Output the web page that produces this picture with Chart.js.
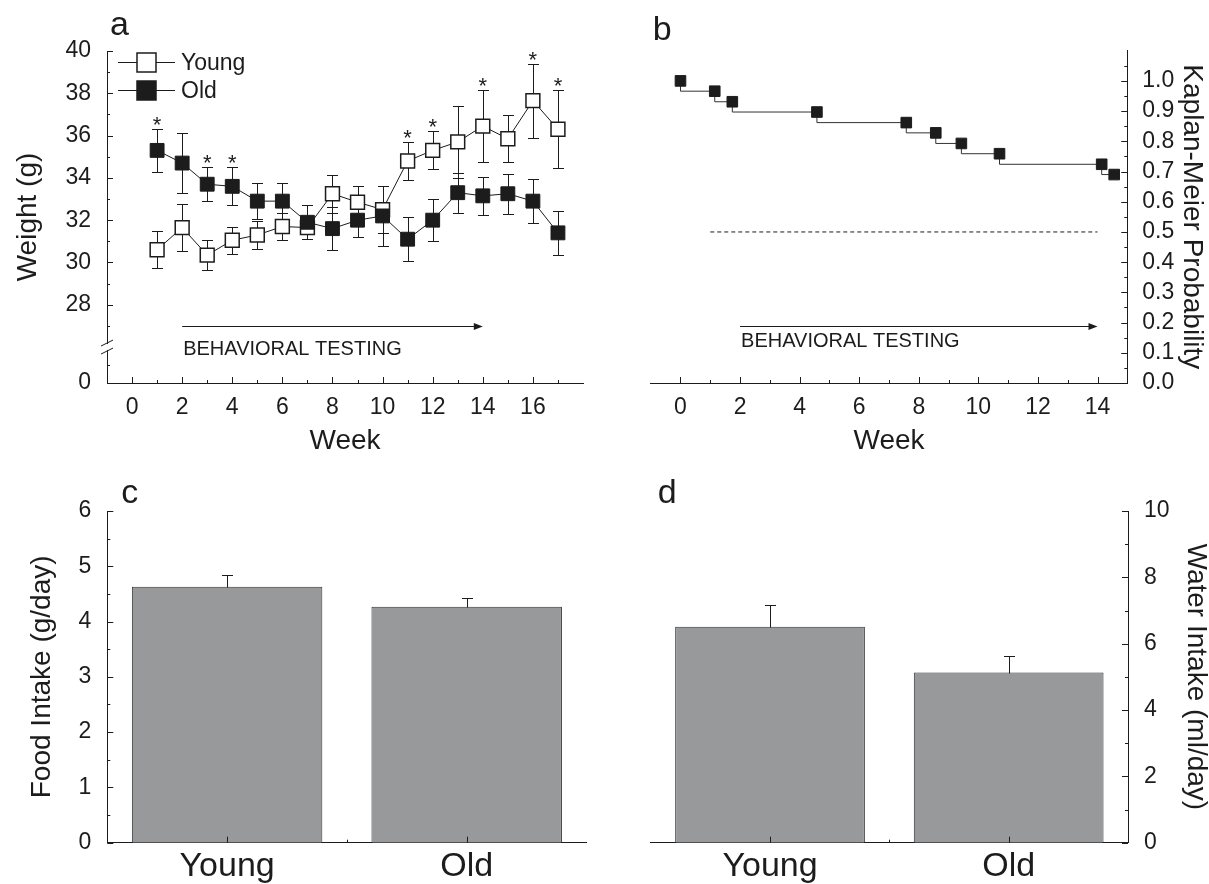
<!DOCTYPE html>
<html>
<head>
<meta charset="utf-8">
<script src="https://cdn.jsdelivr.net/npm/chart.js@4.4.0/dist/chart.umd.min.js"></script>
<style>
  body { margin: 0; background: #fff; }
  #fig { position: relative; width: 1209px; height: 884px; background: #fff; }
  #fig canvas { position: absolute; }
</style>
</head>
<body>
<div id="fig">
  <canvas id="weightChart" width="600" height="460" style="left:0;top:0"></canvas>
  <canvas id="survivalChart" width="609" height="460" style="left:600px;top:0"></canvas>
  <canvas id="foodChart" width="600" height="424" style="left:0;top:460px"></canvas>
  <canvas id="waterChart" width="609" height="424" style="left:600px;top:460px"></canvas>
</div>
<script>
const INK = '#1c1c1c';
const BAR_FILL = '#98999b';
Chart.defaults.font.family = '"Liberation Sans", Arial, Helvetica, sans-serif';
Chart.defaults.color = INK;

// body weight (g), mean +/- SEM per week
const weeks = [1, 2, 3, 4, 5, 6, 7, 8, 9, 10, 11, 12, 13, 14, 15, 16, 17];
const youngWeight = [30.6, 31.65, 30.35, 31.05, 31.3, 31.7, 31.65, 33.25, 32.85, 32.5, 34.8, 35.3, 35.7, 36.45, 35.85, 37.65, 36.3];
const youngSem = [0.87, 1.1, 0.7, 0.65, 0.65, 0.62, 0.55, 0.9, 0.75, 1.1, 0.9, 0.9, 1.7, 1.7, 1.1, 1.75, 1.85];
const oldWeight = [35.3, 34.7, 33.7, 33.6, 32.9, 32.9, 31.9, 31.6, 32.0, 32.2, 31.1, 32.0, 33.3, 33.15, 33.25, 32.9, 31.4];
const oldSem = [1.0, 1.4, 0.8, 0.9, 0.85, 0.85, 0.8, 1.0, 0.8, 1.4, 1.05, 1.0, 0.95, 0.9, 0.95, 1.05, 1.05];
const significantWeeks = [1, 3, 4, 11, 12, 14, 16, 17];
const weekTicks = [0, 2, 4, 6, 8, 10, 12, 14, 16];
const weightTicks = [0, 28, 30, 32, 34, 36, 38, 40];
const weightFloor = 24.3;   // where the "0" sits below the axis break
const weightBreak = 26;

// Kaplan-Meier survival of the aged cohort
const kmWeeks = [0, 1.15, 1.74, 4.58, 7.58, 8.57, 9.43, 10.71, 14.14, 14.56];
const kmProb = [1.0, 0.966, 0.931, 0.897, 0.862, 0.828, 0.793, 0.759, 0.724, 0.690];
const medianWeeks = [1, 14];
const kmWeekTicks = [0, 2, 4, 6, 8, 10, 12, 14];
const probTicks = [0, 0.1, 0.2, 0.3, 0.4, 0.5, 0.6, 0.7, 0.8, 0.9, 1.0];

// daily intake
const groups = ['Young', 'Old'];
const foodIntake = [4.63, 4.27];
const foodSem = [0.22, 0.16];
const foodTicks = [0, 1, 2, 3, 4, 5, 6];
const waterIntake = [6.51, 5.13];
const waterSem = [0.66, 0.5];
const waterTicks = [0, 2, 4, 6, 8, 10];

const testingWeeks = [2, 14];

function range(start, stop, step) {
  const out = [];
  for (let v = start; v <= stop + 1e-9; v += step) out.push(+v.toFixed(4));
  return out;
}

// short inward tick marks, major and minor
function tickMarks(spec) {
  return {
    id: 'tickMarks',
    afterDraw(chart) {
      const ctx = chart.ctx;
      ctx.save();
      ctx.strokeStyle = INK;
      ctx.lineWidth = 1;
      ctx.beginPath();
      Object.keys(spec).forEach(id => {
        const scale = chart.scales[id];
        const mark = (v, len) => {
          const p = Math.round(scale.getPixelForValue(v)) + 0.5;
          if (scale.isHorizontal()) {
            ctx.moveTo(p, scale.top); ctx.lineTo(p, scale.top - len);
          } else if (scale.position === 'left') {
            ctx.moveTo(scale.right, p); ctx.lineTo(scale.right + len, p);
          } else {
            ctx.moveTo(scale.left, p); ctx.lineTo(scale.left - len, p);
          }
        };
        (spec[id].major || []).forEach(v => mark(v, 6));
        (spec[id].minor || []).forEach(v => mark(v, 3));
      });
      ctx.stroke();
      ctx.restore();
    }
  };
}

function errorBars(items, hook) {
  return {
    id: 'errorBars',
    [hook](chart) {
      const ctx = chart.ctx;
      const y = chart.scales.y;
      ctx.save();
      ctx.strokeStyle = INK;
      ctx.lineWidth = 1;
      items.forEach(({ dataset, values, errors, upperOnly, cap }) => {
        chart.getDatasetMeta(dataset).data.forEach((el, i) => {
          const x = Math.round(el.x) + 0.5;
          const top = Math.round(y.getPixelForValue(values[i] + errors[i])) + 0.5;
          const bottom = Math.round(y.getPixelForValue(upperOnly ? values[i] : values[i] - errors[i])) + 0.5;
          ctx.beginPath();
          ctx.moveTo(x, top); ctx.lineTo(x, bottom);
          ctx.moveTo(x - cap / 2, top); ctx.lineTo(x + cap / 2, top);
          if (!upperOnly) { ctx.moveTo(x - cap / 2, bottom); ctx.lineTo(x + cap / 2, bottom); }
          ctx.stroke();
        });
      });
      ctx.restore();
    }
  };
}

function panelLetter(letter, dx, dy) {
  return {
    id: 'panelLetter',
    afterDraw(chart) {
      const { ctx, chartArea } = chart;
      ctx.save();
      ctx.fillStyle = INK;
      ctx.font = '34px "Liberation Sans", Arial, sans-serif';
      ctx.textBaseline = 'alphabetic';
      ctx.fillText(letter, chartArea.left + dx, chartArea.top + dy);
      ctx.restore();
    }
  };
}

// arrow spanning the behavioral testing period with its caption
function testingArrow(arrowY, textY) {
  return {
    id: 'testingArrow',
    afterDatasetsDraw(chart) {
      const { ctx, scales: { x, y } } = chart;
      const x0 = x.getPixelForValue(testingWeeks[0]);
      const x1 = x.getPixelForValue(testingWeeks[1]);
      const py = Math.round(y.getPixelForValue(arrowY)) + 0.5;
      ctx.save();
      ctx.strokeStyle = INK;
      ctx.fillStyle = INK;
      ctx.lineWidth = 1;
      ctx.beginPath();
      ctx.moveTo(x0, py); ctx.lineTo(x1 - 6, py);
      ctx.stroke();
      ctx.beginPath();
      ctx.moveTo(x1, py); ctx.lineTo(x1 - 9, py - 3.5); ctx.lineTo(x1 - 9, py + 3.5);
      ctx.closePath();
      ctx.fill();
      ctx.font = '20px "Liberation Sans", Arial, sans-serif';
      ctx.textBaseline = 'middle';
      ctx.fillText('BEHAVIORAL TESTING', x0 + 1, y.getPixelForValue(textY));
      ctx.restore();
    }
  };
}

const weightExtras = {
  id: 'weightExtras',
  afterDraw(chart) {
    const { ctx, chartArea, scales: { x, y } } = chart;
    ctx.save();
    // axis break on the weight axis
    const by = y.getPixelForValue(weightBreak);
    const ax = chartArea.left;
    ctx.fillStyle = '#fff';
    ctx.fillRect(ax - 2, by - 3, 4, 6);
    ctx.strokeStyle = INK;
    ctx.lineWidth = 1;
    ctx.beginPath();
    ctx.moveTo(ax - 6, by - 1); ctx.lineTo(ax + 6, by - 7);
    ctx.moveTo(ax - 6, by + 7); ctx.lineTo(ax + 6, by + 1);
    ctx.stroke();

    // significance stars above the higher error bar
    ctx.fillStyle = INK;
    ctx.font = '22px "Liberation Sans", Arial, sans-serif';
    ctx.textAlign = 'center';
    ctx.textBaseline = 'alphabetic';
    significantWeeks.forEach(w => {
      const i = weeks.indexOf(w);
      const top = Math.max(youngWeight[i] + youngSem[i], oldWeight[i] + oldSem[i]);
      ctx.fillText('*', x.getPixelForValue(w), y.getPixelForValue(top) + 3);
    });

    // legend: line through marker
    const entries = [
      { label: chart.data.datasets[1].label, fill: '#fff' },
      { label: chart.data.datasets[0].label, fill: INK }
    ];
    ctx.textAlign = 'left';
    ctx.textBaseline = 'middle';
    ctx.font = '23px "Liberation Sans", Arial, sans-serif';
    entries.forEach((e, k) => {
      const ly = Math.round(chartArea.top + 11 + k * 28) + 0.5;
      const lx = chartArea.left + 11;
      ctx.strokeStyle = INK;
      ctx.lineWidth = 1;
      ctx.beginPath();
      ctx.moveTo(lx, ly); ctx.lineTo(lx + 57, ly);
      ctx.stroke();
      ctx.fillStyle = e.fill;
      ctx.lineWidth = 1.5;
      ctx.fillRect(lx + 19, ly - 9.5, 19, 19);
      ctx.strokeRect(lx + 19, ly - 9.5, 19, 19);
      ctx.fillStyle = INK;
      ctx.fillText(e.label, lx + 63, ly + 1);
    });
    ctx.restore();
  }
};

const tickFont = { size: 23 };
const titleFont = { size: 28 };
const border = { display: true, color: INK, width: 1 };
const common = {
  responsive: false,
  animation: false,
  devicePixelRatio: 1,
  events: [],
  plugins: { legend: { display: false }, tooltip: { enabled: false } }
};

// a: body weight
new Chart(document.getElementById('weightChart'), {
  type: 'line',
  data: {
    datasets: [
      {
        label: 'Old',
        data: weeks.map((w, i) => ({ x: w, y: oldWeight[i] })),
        borderColor: INK, borderWidth: 1,
        pointStyle: 'rect', pointRadius: 9.8,
        pointBackgroundColor: INK, pointBorderColor: INK, pointBorderWidth: 1
      },
      {
        label: 'Young',
        data: weeks.map((w, i) => ({ x: w, y: youngWeight[i] })),
        borderColor: INK, borderWidth: 1,
        pointStyle: 'rect', pointRadius: 9.8,
        pointBackgroundColor: '#fff', pointBorderColor: INK, pointBorderWidth: 1.5
      }
    ]
  },
  options: {
    ...common,
    layout: { padding: { top: 51, right: 17, left: 0, bottom: 0 }, autoPadding: false },
    scales: {
      x: {
        type: 'linear', min: -1, max: 18,
        afterFit: s => { s.height = 77; },
        afterBuildTicks: s => { s.ticks = weekTicks.map(v => ({ value: v })); },
        grid: { display: false }, border,
        ticks: { font: tickFont, padding: 3, autoSkip: false, maxRotation: 0 },
        title: { display: true, text: 'Week', font: titleFont, padding: { top: 0, bottom: 2 } }
      },
      y: {
        type: 'linear', min: weightFloor, max: 40,
        afterFit: s => { s.width = 107; },
        afterBuildTicks: s => { s.ticks = weightTicks.map(v => ({ value: v === 0 ? weightFloor : v })); },
        grid: { display: false }, border,
        ticks: { font: tickFont, padding: 8, autoSkip: false, callback: (v, i) => String(weightTicks[i]) },
        title: { display: true, text: 'Weight (g)', font: titleFont, padding: { top: 11, bottom: 0 } }
      }
    }
  },
  plugins: [
    errorBars([
      { dataset: 0, values: oldWeight, errors: oldSem, cap: 11 },
      { dataset: 1, values: youngWeight, errors: youngSem, cap: 11 }
    ], 'beforeDatasetsDraw'),
    testingArrow(27, 25.9),
    tickMarks({
      x: { major: weekTicks, minor: range(1, 17, 2) },
      y: { major: weightTicks.slice(1), minor: range(27, 39, 2).concat([25.15]) }
    }),
    weightExtras,
    panelLetter('a', 3, -16)
  ]
});

// b: survival
new Chart(document.getElementById('survivalChart'), {
  type: 'line',
  data: {
    datasets: [
      {
        data: kmWeeks.map((w, i) => ({ x: w, y: kmProb[i] })),
        stepped: 'after',
        borderColor: '#333', borderWidth: 1,
        pointStyle: 'rect', pointRadius: 7.5,
        pointBackgroundColor: INK, pointBorderColor: INK, pointBorderWidth: 1
      },
      {
        data: medianWeeks.map(w => ({ x: w, y: 0.5 })),
        borderColor: INK, borderWidth: 1, borderDash: [4, 3],
        pointRadius: 0
      }
    ]
  },
  options: {
    ...common,
    layout: { padding: { top: 50.7, right: 0, left: 50.7, bottom: 0 }, autoPadding: false },
    scales: {
      x: {
        type: 'linear', min: -1, max: 15,
        afterFit: s => { s.height = 77; },
        afterBuildTicks: s => { s.ticks = kmWeekTicks.map(v => ({ value: v })); },
        grid: { display: false }, border,
        ticks: { font: tickFont, padding: 3, autoSkip: false, maxRotation: 0 },
        title: { display: true, text: 'Week', font: titleFont, padding: { top: 0, bottom: 2 } }
      },
      y: {
        type: 'linear', position: 'right', min: 0, max: 1.1,
        afterFit: s => { s.width = 81.7; },
        afterBuildTicks: s => { s.ticks = probTicks.map(v => ({ value: v })); },
        grid: { display: false }, border,
        ticks: { font: tickFont, padding: 7, autoSkip: false, callback: (v, i) => probTicks[i].toFixed(1) },
        title: { display: true, text: 'Kaplan-Meier Probability', font: titleFont, padding: { top: 0, bottom: 0 } }
      }
    }
  },
  plugins: [
    testingArrow(0.19, 0.137),
    tickMarks({
      x: { major: kmWeekTicks, minor: range(1, 13, 2) },
      y: { major: probTicks, minor: range(0.05, 1.05, 0.1) }
    }),
    panelLetter('b', 2, -11)
  ]
});

function intakeChart(canvasId, values, sem, ticks, side, axisTitle, letter, letterDx, titlePad, axisWidth, pad) {
  const minor = [];
  for (let i = 0; i < ticks.length - 1; i++) minor.push((ticks[i] + ticks[i + 1]) / 2);
  return new Chart(document.getElementById(canvasId), {
    type: 'bar',
    data: {
      labels: groups,
      datasets: [{
        data: values,
        backgroundColor: BAR_FILL, borderColor: '#333', borderWidth: 1,
        barPercentage: 0.795, categoryPercentage: 1
      }]
    },
    options: {
      ...common,
      layout: { padding: pad, autoPadding: false },
      scales: {
        x: {
          afterFit: s => { s.height = 41.3; },
          grid: { display: false }, border,
          ticks: { font: { size: 34 }, padding: -4, maxRotation: 0 }
        },
        y: {
          position: side, min: 0, max: ticks[ticks.length - 1],
          afterFit: s => { s.width = axisWidth; },
          afterBuildTicks: s => { s.ticks = ticks.map(v => ({ value: v })); },
          grid: { display: false }, border,
          ticks: { font: tickFont, padding: 8, autoSkip: false },
          title: { display: true, text: axisTitle, font: titleFont, padding: titlePad }
        }
      }
    },
    plugins: [
      errorBars([{ dataset: 0, values, errors: sem, upperOnly: true, cap: 11 }], 'afterDatasetsDraw'),
      tickMarks({ x: { major: [0, 1], minor: [0.5] }, y: { major: ticks, minor } }),
      panelLetter(letter, letterDx, -8)
    ]
  });
}

// c: food intake, d: water intake
intakeChart('foodChart', foodIntake, foodSem, foodTicks, 'left', 'Food Intake (g/day)', 'c', 14,
  { top: 25, bottom: 0 }, 107.3, { top: 51, right: 13.5, left: 0, bottom: 0 });
intakeChart('waterChart', waterIntake, waterSem, waterTicks, 'right', 'Water Intake (ml/day)', 'd', 7,
  { top: -4, bottom: 0 }, 81, { top: 51, right: 0, left: 50.7, bottom: 0 });
</script>
</body>
</html>
